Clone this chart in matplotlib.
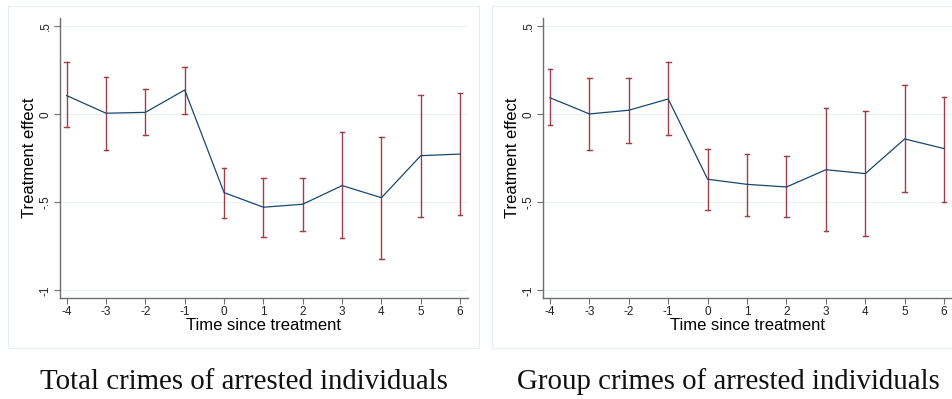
import matplotlib
matplotlib.use("Agg")
import matplotlib.pyplot as plt
from matplotlib.patches import Rectangle

# event-time estimates with 95% confidence bounds
periods = [-4, -3, -2, -1, 0, 1, 2, 3, 4, 5, 6]

total_est = [0.106, 0.006, 0.011, 0.138, -0.445, -0.528, -0.511, -0.405, -0.474, -0.235, -0.226]
total_hi = [0.295, 0.210, 0.145, 0.270, -0.307, -0.364, -0.364, -0.099, -0.129, 0.108, 0.123]
total_lo = [-0.072, -0.201, -0.118, 0.003, -0.590, -0.697, -0.661, -0.705, -0.820, -0.582, -0.572]

group_est = [0.094, 0.002, 0.023, 0.087, -0.369, -0.398, -0.413, -0.315, -0.337, -0.140, -0.195]
group_hi = [0.256, 0.206, 0.206, 0.295, -0.197, -0.224, -0.235, 0.034, 0.017, 0.166, 0.100]
group_lo = [-0.063, -0.201, -0.165, -0.119, -0.542, -0.578, -0.585, -0.661, -0.693, -0.443, -0.497]

captions = ["Total crimes of arrested individuals", "Group crimes of arrested individuals"]
yticks = [0.5, 0, -0.5, -1]
ytick_labels = [".5", "0", "-.5", "-1"]

plt.rcParams['font.family'] = ['Liberation Sans', 'DejaVu Sans']

W, H = 952, 399
fig = plt.figure(figsize=(W / 100, H / 100), dpi=100)

navy = '#1a476f'
maroon = '#9c3f48'
grid_c = '#eaf1f3'
axis_c = '#6e6e6e'


def panel(left, right, est, lo, hi):
    ax = fig.add_axes([left / W, (H - 297.7) / H, (right - left) / W, (297.7 - 18) / H])
    for p, a, b in zip(periods, lo, hi):
        ax.plot([p, p], [a, b], color=maroon, lw=1.0, zorder=2)
        ax.plot([p - 0.06, p + 0.06], [a, a], color=maroon, lw=1.0, zorder=2)
        ax.plot([p - 0.06, p + 0.06], [b, b], color=maroon, lw=1.0, zorder=2)
    ax.plot(periods, est, color=navy, lw=0.9, zorder=3)
    ax.set_xlim(-4.17, 6.2)
    ax.set_ylim(-1.042, 0.547)
    ax.set_xticks(periods)
    ax.set_xticklabels([str(p) for p in periods], fontsize=8.5)
    ax.set_yticks(yticks)
    ax.set_yticklabels(ytick_labels, fontsize=8.5, rotation=90, va='center')
    ax.grid(axis='y', color=grid_c, lw=0.8)
    ax.set_axisbelow(True)
    for s in ['top', 'right']:
        ax.spines[s].set_visible(False)
    for s in ['left', 'bottom']:
        ax.spines[s].set_color(axis_c)
        ax.spines[s].set_linewidth(1.0)
    ax.tick_params(colors=axis_c, labelcolor='#222222', length=4, width=0.8, pad=2)
    ax.set_xlabel("Time since treatment", fontsize=12, labelpad=0)
    ax.set_ylabel("Treatment effect", fontsize=12, labelpad=2)
    return ax


panel(60, 468, total_est, total_lo, total_hi)
panel(543.3, 952, group_est, group_lo, group_hi)

# faint frames around each graph region
fig.add_artist(Rectangle((8 / W, (H - 348) / H), (479 - 8) / W, (348 - 6) / H,
                         transform=fig.transFigure, fill=False, ec='#e6eef0', lw=0.8))
fig.add_artist(Rectangle((492 / W, (H - 348) / H), (960 - 492) / W, (348 - 6) / H,
                         transform=fig.transFigure, fill=False, ec='#e6eef0', lw=0.8))

for cx, text in zip([244, 728], captions):
    fig.text(cx / W, (H - 389) / H, text, ha='center', va='baseline',
             fontsize=20.8, family=['Liberation Serif', 'DejaVu Serif'], color='#111111')

fig.savefig("out.png", dpi=100)
